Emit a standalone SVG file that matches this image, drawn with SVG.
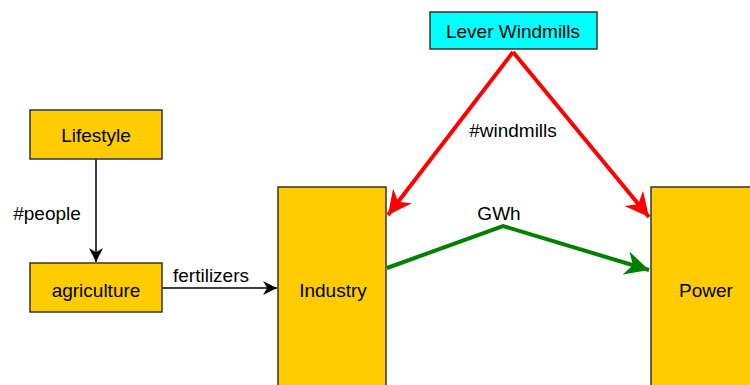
<svg xmlns="http://www.w3.org/2000/svg" width="750" height="385" viewBox="0 0 750 385">
<style>
text{font-family:"Liberation Sans",Arial,sans-serif;font-size:19px;fill:#000;text-anchor:middle;dominant-baseline:central}
.node{fill:#ffcc00;stroke:#333;stroke-width:1.5}
.lever{fill:#00ffff;stroke:#333;stroke-width:1.5}
.thin{stroke:#000;stroke-width:1.5;fill:none}
.red{stroke:#ff0000;stroke-width:4;fill:none}
.green{stroke:#008000;stroke-width:4;fill:none}
</style>
<defs>
<marker id="ab" viewBox="0 0 10 10" refX="10" refY="5" markerWidth="14" markerHeight="14" markerUnits="userSpaceOnUse" orient="auto"><path d="M0,0 L10,5 L0,10 L3,5 Z" fill="#000"/></marker>
<marker id="ar" viewBox="0 0 10 10" refX="10" refY="5" markerWidth="6" markerHeight="6" orient="auto"><path d="M0,0 L10,5 L0,10 L3,5 Z" fill="#ff0000"/></marker>
<marker id="ag" viewBox="0 0 10 10" refX="10" refY="5" markerWidth="6" markerHeight="6" orient="auto"><path d="M0,0 L10,5 L0,10 L3,5 Z" fill="#008000"/></marker>
</defs>
<g id="connectors">
<path class="thin" d="M96,159 L96,262" marker-end="url(#ab)"/>
<text x="47" y="213">#people</text>
<path class="thin" d="M162,288 L277,288" marker-end="url(#ab)"/>
<text x="211" y="275">fertilizers</text>
<path class="red" d="M513,52 L388,215" marker-end="url(#ar)"/>
<path class="red" d="M513,52 L649,217" marker-end="url(#ar)"/>
<text x="513" y="130">#windmills</text>
<path class="green" d="M387,268 L503,226 L649,270" marker-end="url(#ag)"/>
<text x="499" y="213">GWh</text>
</g>
<g id="lifestyle"><rect class="node" x="30" y="110" width="132" height="49"/><text x="96" y="135">Lifestyle</text></g>
<g id="agriculture"><rect class="node" x="30" y="263" width="132" height="49"/><text x="96" y="290">agriculture</text></g>
<g id="industry"><rect class="node" x="278" y="187" width="108" height="210"/><text x="333" y="290">Industry</text></g>
<g id="lever"><rect class="lever" x="430" y="12" width="167" height="37"/><text x="513" y="31">Lever Windmills</text></g>
<g id="power"><rect class="node" x="651" y="187" width="108" height="210"/><text x="706" y="290">Power</text></g>
</svg>
